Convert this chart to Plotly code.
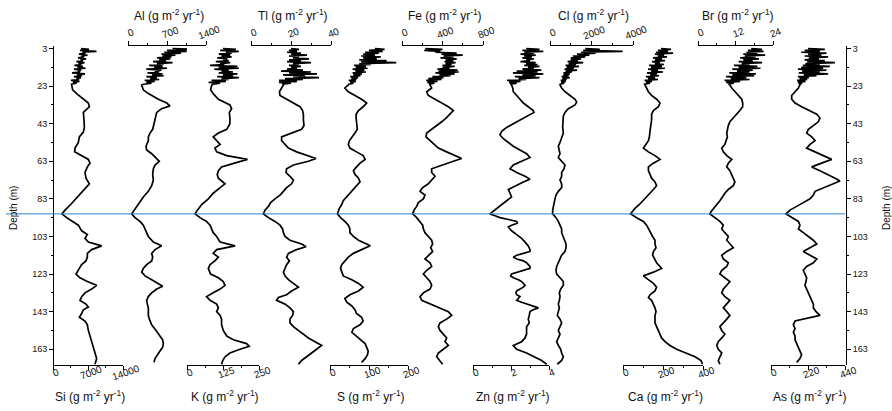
import plotly.graph_objects as go

# ---------------- DATA ----------------
depth_top = [3.0, 3.5, 4.0, 4.5, 5.0, 5.5, 6.0, 6.5, 7.0, 7.5, 8.0, 8.5, 9.0, 9.5, 10.0,
             10.5, 11.0, 11.5, 12.0, 12.5, 13.0, 13.5, 14.0, 14.5, 15.0, 15.5, 16.0, 16.5,
             17.0, 17.5, 18.0, 18.5, 19.0, 19.5, 20.0, 20.5, 21.0, 21.5, 22.0]

si_top = [5600, 7200, 5400, 8700, 5900, 6500, 5200, 6900, 5700, 6200,
          5000, 6600, 5500, 6000, 4700, 6300, 5100, 5700, 4300, 6000,
          4900, 6500, 4200, 5600, 5000, 5400, 3800, 6400, 4800, 5800,
          4200, 5600, 4700, 5200, 3600, 5300, 4000, 4700, 3700]
si_depth = [22.4, 25, 27, 30.4, 32, 34, 35.5, 37, 41, 45,
            47.5, 50, 53, 56, 58, 60, 62, 64, 66, 69,
            72, 75, 77, 80, 83, 86, 89, 91, 93, 95,
            97, 100, 102, 104, 106, 108, 110, 112, 114, 116,
            118, 120, 123, 125, 127, 129, 131, 133, 135, 137,
            139, 140.5, 142, 144, 146, 148, 150, 153, 156, 159,
            162, 165, 168, 171]
si_vals = [3730, 3930, 4730, 6400, 7070, 7270, 6600, 6070, 6200, 6270,
           6070, 5270, 5070, 4400, 4330, 5730, 7070, 7400, 6870, 6400,
           6600, 7270, 6600, 5730, 4730, 3530, 2400, 1800, 2730, 3930,
           5070, 5730, 6870, 6400, 7070, 9730, 7730, 6870, 6870, 6600,
           5730, 5270, 4600, 5400, 6870, 8730, 7730, 6400, 5730, 5400,
           6600, 7070, 6070, 5730, 5270, 6400, 6870, 7070, 7400, 7730,
           7930, 8400, 8730, 8400]

al_top = [800, 1250, 700, 1050, 650, 950, 600, 850, 620, 780,
          520, 760, 560, 680, 450, 800, 520, 640, 380, 620,
          470, 700, 330, 600, 480, 560, 350, 620, 430, 640,
          330, 520, 400, 560, 300, 480, 330, 420, 280]
al_depth = [22.4, 25, 27, 30, 32, 33.5, 35, 37, 40, 43,
            46, 48, 50, 52, 55, 57, 59, 61, 63, 65,
            67, 70, 73, 76, 79, 82, 85, 88, 91, 93,
            95, 97, 99, 101, 103, 106, 108, 110, 112, 114,
            116, 118, 120, 122, 124, 126, 128, 129.5, 131, 133,
            135, 137, 139, 141, 143, 145, 147, 150, 153, 156,
            158, 160, 162, 164, 166, 168, 170]
al_vals = [245, 275, 365, 545, 694, 754, 604, 515, 485, 467,
           443, 395, 365, 365, 323, 335, 425, 503, 562, 485,
           455, 443, 455, 425, 365, 275, 203, 126, 66, 126,
           215, 275, 305, 335, 365, 455, 604, 485, 425, 443,
           425, 335, 275, 245, 305, 425, 545, 622, 515, 425,
           365, 335, 347, 365, 365, 365, 383, 425, 503, 574,
           622, 634, 622, 574, 527, 485, 467]

k_top = [125, 170, 115, 180, 135, 155, 110, 150, 120, 155,
         105, 140, 125, 145, 100, 150, 115, 130, 80, 175,
         110, 180, 95, 145, 120, 160, 110, 175, 125, 160,
         105, 180, 120, 145, 85, 135, 75, 115, 90]
k_depth = [22.4, 25, 27, 30, 33, 35, 37, 40, 43, 46,
           48, 50, 52, 54, 56, 58, 60, 62, 64, 66,
           68, 70, 72, 75, 77, 80, 83, 86, 89, 91,
           93, 95, 97, 99, 101, 103, 106, 108, 110, 112,
           114, 116, 118, 120, 123, 125, 127, 129, 131, 133,
           135, 137, 139, 141, 143, 145, 147, 150, 153, 156,
           158, 160, 161.5, 163, 165, 167, 169, 171]
k_vals = [86, 82, 91, 109, 149, 155, 147, 149, 149, 138,
          109, 91, 103, 115, 97, 103, 138, 210, 165, 120,
          109, 105, 109, 132, 115, 91, 74, 51, 36, 28,
          45, 68, 80, 86, 91, 103, 115, 167, 103, 91,
          109, 97, 80, 74, 82, 109, 126, 132, 115, 91,
          68, 80, 103, 109, 103, 115, 120, 120, 126, 138,
          161, 207, 216, 184, 149, 132, 124, 120]

tl_top = [20, 24, 19, 23, 18, 25, 20, 28, 19, 24,
          21, 29, 19, 25, 18, 30, 21, 24, 19, 25,
          20, 23, 18, 26, 15, 30, 19, 33, 16, 27,
          21, 34, 17, 26, 14, 23, 14, 20, 16]
tl_depth = [22.4, 24, 26, 28, 30, 32, 34, 36, 38, 41,
            44, 46, 48, 50, 52, 54, 56, 58, 60, 61.5,
            63, 65, 67, 69, 71, 73, 75, 77, 79, 81,
            83, 85, 87, 89, 91, 93, 95, 97, 99, 101,
            103, 105, 107, 108.5, 110, 112, 114, 116, 118, 120,
            122, 124, 126, 128, 130, 132, 134, 135.5, 137, 139,
            141, 143, 145, 147, 149, 151, 153, 155, 157, 159,
            161, 163, 165, 167, 169, 171]
tl_vals = [16.2, 15.3, 14.2, 14.5, 17.8, 21.2, 24.5, 25.8, 26.2, 26.2,
           26.5, 25.3, 20.3, 15.3, 15.3, 17, 18.7, 22.8, 27.8, 32.5,
           28.7, 21.2, 17.8, 17.5, 19.5, 21.2, 20.3, 17.8, 16.2, 14.5,
           12, 9.8, 8.7, 7, 6.2, 8.7, 12, 14.5, 15.8, 16.2,
           17, 19.5, 25.3, 27.5, 22.8, 18.7, 17.8, 19.2, 17.8, 17,
           16.2, 17, 18.7, 21.2, 23.7, 20.3, 17.8, 13.7, 12.8, 17,
           19.5, 21.2, 20.8, 19.5, 19.5, 21.2, 23.7, 26.2, 28.7, 32,
           35.3, 32.8, 30.3, 27.8, 25.3, 23.7]

s_top = [115, 140, 100, 135, 90, 125, 85, 115, 80, 130,
         85, 120, 75, 145, 80, 170, 75, 105, 62, 92,
         66, 96, 58, 88, 65, 92, 58, 82, 60, 78,
         52, 72, 55, 68, 48, 66, 52, 60, 48]
s_depth = [22.4, 24, 26, 28, 30, 32, 34, 36, 38, 40,
           42, 44, 46, 48, 50, 52, 54, 56, 58, 60,
           62, 64, 66, 68, 70, 72, 74, 76, 78, 80,
           82, 84, 86, 88, 91, 93, 95, 97, 99, 101,
           103, 105, 107, 108, 110, 112, 114, 116, 118, 120,
           122, 124, 126, 128, 130, 132, 134, 136, 138, 140,
           142, 144, 146, 148, 150, 152, 154, 156, 158, 160,
           162, 164, 166, 168, 170]
s_vals = [47, 38, 47, 64, 81, 94, 85, 73, 67, 67,
          68, 68, 70, 64, 56, 50, 47, 51, 68, 85,
          90, 77, 68, 60, 64, 73, 77, 68, 60, 51,
          43, 34, 30, 24, 19, 27, 38, 47, 51, 51,
          60, 73, 94, 103, 81, 60, 47, 38, 30, 27,
          30, 34, 56, 73, 85, 73, 51, 38, 43, 56,
          64, 68, 81, 85, 77, 60, 56, 68, 81, 90,
          94, 98, 96, 90, 81]

fe_top = [230, 400, 220, 380, 330, 540, 390, 600, 410, 510,
          380, 540, 430, 510, 420, 530, 430, 490, 400, 520,
          400, 470, 350, 550, 360, 560, 330, 520, 370, 480,
          300, 410, 260, 390, 240, 350, 250, 320, 270]
fe_depth = [22.4, 24, 26, 28, 30, 32, 34, 36, 38, 40,
            42, 44, 46, 48, 50, 52, 54, 56, 58, 60,
            61.5, 63, 65, 67, 69, 71, 73, 75, 77, 79,
            81, 83, 85, 87, 89, 91, 93, 95, 97, 99,
            101, 103, 105, 107, 109, 111, 113, 115, 117, 119,
            121, 123, 125, 127, 129, 131, 133, 135, 137, 139,
            141, 143, 145, 147, 149, 151, 153, 155, 157, 159,
            161, 163, 165, 167, 169, 171]
fe_vals = [277, 293, 244, 260, 326, 392, 458, 507, 474, 435,
           392, 342, 293, 244, 237, 277, 310, 359, 441, 524,
           589, 507, 392, 293, 293, 326, 293, 260, 204, 178,
           227, 211, 161, 145, 119, 105, 145, 178, 204, 211,
           227, 260, 293, 303, 283, 303, 260, 227, 277, 293,
           244, 211, 244, 277, 293, 277, 211, 178, 195, 277,
           375, 458, 491, 441, 375, 359, 375, 408, 441, 425,
           458, 408, 359, 342, 375, 401]

zn_top = [2.8, 3.5, 2.6, 3.7, 2.7, 3.2, 2.5, 3.3, 2.7, 3.1,
          2.6, 3.2, 2.8, 3.0, 2.5, 3.3, 2.8, 3.4, 2.7, 3.5,
          2.9, 3.2, 2.6, 3.6, 2.3, 3.4, 2.1, 3.7, 2.6, 3.3,
          2.2, 3.5, 2.4, 2.8, 1.8, 2.5, 1.9, 2.3, 2.0]
zn_depth = [22.4, 24, 26, 28, 30, 32, 34, 36, 37, 39,
            41, 43, 45, 47, 49, 51, 53, 55, 57, 59,
            61, 63, 65, 67, 69, 71, 72.5, 74, 76, 78,
            80, 82, 84, 86, 88, 90, 91, 92, 93, 94,
            95, 96, 97, 98, 100, 102, 104, 106, 108, 110,
            111, 112, 113, 114, 115, 116, 117, 118, 119, 120,
            121, 122, 123, 124, 125, 126, 127, 128, 129, 130,
            131, 132, 133, 134, 135, 136, 137, 138, 139, 140,
            141, 142, 143, 145, 147, 149, 151, 153, 155, 157,
            159, 161, 163, 165, 167, 169, 171]
zn_vals = [2.03, 2.09, 2.12, 2.30, 2.47, 2.65, 2.91, 3.17, 3.21, 2.82,
           2.47, 2.12, 1.77, 1.51, 1.42, 1.60, 1.86, 2.12, 2.47, 2.82,
           3.00, 2.56, 2.12, 1.95, 2.30, 2.74, 3.00, 2.65, 2.21, 1.86,
           1.95, 2.03, 1.77, 1.51, 1.25, 0.98, 0.89, 1.16, 1.42, 1.86,
           2.30, 2.33, 2.03, 1.86, 2.03, 2.30, 2.56, 2.74, 2.91, 3.00,
           3.00, 2.65, 2.30, 2.12, 2.30, 2.65, 2.82, 2.91, 3.00, 3.00,
           2.65, 2.30, 2.03, 1.98, 2.12, 2.39, 2.56, 2.65, 2.74, 2.65,
           2.47, 2.30, 2.26, 2.30, 2.47, 2.39, 2.30, 2.56, 2.82, 3.17,
           3.44, 3.17, 3.00, 2.96, 2.91, 2.96, 2.82, 2.82, 2.82, 2.74,
           2.56, 2.12, 2.30, 2.82, 3.26, 3.61, 3.88]

cl_top = [1700, 2400, 1600, 3500, 1500, 2200, 1300, 1900, 1100, 1700,
          1000, 1500, 1000, 1350, 850, 1600, 900, 1250, 750, 1400,
          800, 1150, 700, 1300, 750, 1050, 650, 950, 650, 900,
          560, 950, 600, 800, 520, 760, 540, 680, 490]
cl_depth = [22.4, 24, 26, 28, 30, 31.5, 33, 35, 37, 39,
            42, 45, 48, 51, 53, 55, 57, 59, 61, 63,
            65, 67, 69, 71, 73, 75, 77, 79, 81, 83,
            85, 87, 89, 91, 93, 95, 97, 99, 101, 103,
            105, 107, 109, 111, 113, 115, 117, 119, 121, 123,
            125, 127, 129, 131, 133, 135, 137, 139, 141, 143,
            145, 147, 149, 151, 153, 155, 157, 159, 161, 163,
            165, 167, 169, 171]
cl_vals = [482, 562, 723, 964, 1205, 1285, 1205, 883, 723, 642,
           610, 610, 642, 562, 482, 401, 450, 482, 401, 562,
           723, 675, 562, 562, 482, 562, 562, 401, 289, 241,
           193, 161, 128, 128, 289, 401, 482, 562, 562, 642,
           723, 771, 771, 723, 562, 482, 401, 321, 289, 321,
           482, 642, 642, 514, 450, 482, 450, 401, 450, 401,
           353, 482, 562, 482, 401, 482, 401, 321, 401, 514,
           562, 642, 562, 353]

ca_top = [190, 240, 175, 225, 165, 250, 160, 205, 175, 220,
          150, 195, 160, 210, 145, 185, 160, 205, 130, 195,
          140, 210, 125, 175, 140, 200, 120, 170, 135, 180,
          115, 160, 125, 175, 108, 145, 115, 135, 108]
ca_depth = [22.4, 24, 26, 28, 30, 32, 34, 36, 38, 41,
            44, 47, 50, 52, 54, 56, 58, 60, 62, 64,
            66, 68, 70, 72, 74, 76, 78, 80, 82, 84,
            86, 88, 90, 91, 93, 95, 97, 99, 101, 103,
            105, 107, 109, 111, 113, 115, 117, 119, 120, 122,
            124, 126, 128, 130, 132, 134, 135.5, 137, 139, 141,
            143, 145, 147, 149, 151, 153, 155, 157, 159, 161,
            163, 165, 167, 169, 171]
ca_vals = [110, 115, 127, 143, 168, 185, 177, 152, 143, 143,
           138, 135, 132, 127, 115, 102, 127, 160, 185, 152,
           127, 127, 135, 143, 160, 168, 152, 135, 118, 102,
           82, 60, 43, 38, 68, 102, 118, 127, 135, 148,
           160, 160, 165, 152, 148, 160, 168, 185, 193, 152,
           102, 127, 152, 168, 160, 135, 127, 143, 152, 160,
           165, 160, 160, 160, 168, 177, 185, 193, 210, 235,
           268, 318, 360, 390, 398]

br_top = [17, 20.5, 16, 21, 15.5, 19, 14.5, 21.5, 15, 18.5,
          13.5, 19.5, 14.5, 17.5, 13, 20.5, 14, 16.5, 11.5, 19,
          13, 20, 11, 17.5, 12.5, 16.5, 10, 18.5, 11, 18,
          9, 15.5, 10.5, 16.5, 8.5, 13.5, 9, 11.5, 9.8]
br_depth = [22.4, 24, 26, 28, 30, 32, 34, 36, 38, 40,
            42, 44, 46, 48, 50, 52, 54, 56, 58, 60,
            62, 64, 66, 68, 70, 72, 74, 76, 78, 80,
            82, 84, 86, 88, 90, 91, 93, 95, 97, 99,
            101, 103, 105, 107, 109, 111, 113, 115, 117, 119,
            121, 123, 125, 127, 129, 131, 133, 135, 137, 139,
            141, 143, 145, 147, 149, 151, 153, 155, 157, 159,
            161, 163, 165, 167, 169, 171]
br_vals = [10.2, 10.8, 11.8, 12.9, 14.0, 14.3, 14.3, 13.4, 12.4, 11.3,
           10.2, 9.7, 9.4, 9.2, 9.4, 8.9, 8.6, 7.6, 8.1, 9.2,
           10.8, 9.7, 9.2, 10.2, 10.8, 11.3, 11.8, 11.3, 9.7, 8.6,
           7.9, 7.0, 6.0, 4.9, 4.1, 3.8, 5.4, 7.0, 8.1, 7.6,
           8.6, 9.7, 9.2, 10.2, 11.3, 9.2, 7.6, 8.1, 9.7, 9.2,
           7.6, 7.0, 8.6, 10.2, 9.2, 8.1, 7.6, 8.6, 10.2, 9.2,
           8.1, 9.2, 10.2, 9.2, 8.1, 7.0, 7.6, 8.6, 7.6, 6.5,
           6.0, 6.5, 7.6, 7.0, 6.5, 7.0]

as_top = [220, 320, 200, 290, 180, 330, 220, 300, 200, 340,
          225, 285, 200, 320, 215, 380, 205, 290, 190, 350,
          180, 310, 160, 330, 185, 290, 165, 340, 195, 270,
          160, 225, 170, 215, 155, 205, 160, 185, 170]
as_depth = [22.4, 24, 26, 28, 30, 32, 34, 36, 38, 40,
            42, 44, 46, 48, 50, 52, 54, 56, 58, 60,
            62, 64, 66, 68, 70, 72, 73.5, 75, 77, 79,
            81, 83, 85, 87, 89, 91, 93, 95, 97, 99,
            101, 103, 105, 107, 109, 111, 113, 115, 117, 119,
            121, 123, 125, 127, 129, 131, 133, 135, 137, 139,
            141, 143, 145, 146.5, 148, 150, 152, 154, 156, 158,
            160, 162, 164, 166, 168, 170]
as_vals = [172, 163, 143, 123, 123, 143, 182, 232, 272, 291,
           281, 252, 222, 212, 242, 262, 232, 212, 262, 311,
           361, 301, 242, 291, 341, 381, 410, 371, 311, 262,
           252, 232, 192, 153, 113, 89, 123, 163, 172, 163,
           192, 222, 252, 272, 232, 192, 232, 272, 252, 212,
           192, 202, 212, 208, 202, 212, 222, 232, 242, 252,
           252, 268, 291, 212, 143, 133, 143, 133, 143, 143,
           153, 163, 172, 182, 172, 153]

elements = ["Si", "Al", "K", "Tl", "S", "Fe", "Zn", "Cl", "Ca", "Br", "As"]
tick_labels = {
    "Si": [0, 7000, 14000], "Al": [0, 700, 1400], "K": [0, 125, 250],
    "Tl": [0, 20, 40], "S": [0, 100, 200], "Fe": [0, 400, 800],
    "Zn": [0, 2, 4], "Cl": [0, 2000, 4000], "Ca": [0, 200, 400],
    "Br": [0, 12, 24], "As": [0, 220, 440],
}
depth_ticks = [3, 23, 43, 63, 83, 103, 123, 143, 163]
depth_minor = [13, 33, 53, 73, 93, 113, 133, 153]
marker_depth = 91

series = {
    "Si": (si_top, si_depth, si_vals), "Al": (al_top, al_depth, al_vals),
    "K": (k_top, k_depth, k_vals), "Tl": (tl_top, tl_depth, tl_vals),
    "S": (s_top, s_depth, s_vals), "Fe": (fe_top, fe_depth, fe_vals),
    "Zn": (zn_top, zn_depth, zn_vals), "Cl": (cl_top, cl_depth, cl_vals),
    "Ca": (ca_top, ca_depth, ca_vals), "Br": (br_top, br_depth, br_vals),
    "As": (as_top, as_depth, as_vals),
}

# ---------------- LAYOUT CONFIG ----------------
W, H = 892, 411
PL, PR, PT, PB = 53, 846, 46, 365
PW, PH = PR - PL, PB - PT
axis_px = {"Si": (53, 123), "Al": (128, 206), "K": (187, 259), "Tl": (251, 331),
           "S": (330, 408), "Fe": (402, 483), "Zn": (473, 549), "Cl": (550, 633),
           "Ca": (623, 703), "Br": (698, 773), "As": (771, 845)}
on_top = {"Al", "Tl", "Fe", "Cl", "Br"}
FONT = "Liberation Sans, Arial, sans-serif"
INK = "#111111"


def px2paper_x(px):
    return (px - PL) / PW


def py2paper_y(py):
    return (PB - py) / PH


fig = go.Figure()
layout = dict(
    width=W, height=H, margin=dict(l=PL, r=W - PR, t=PT, b=H - PB, pad=0),
    paper_bgcolor="white", plot_bgcolor="white", showlegend=False,
    font=dict(family=FONT, color=INK, size=10),
)
annotations = []

for i, name in enumerate(elements, start=1):
    top, dep, val = series[name]
    xa = "x" if i == 1 else f"x{i}"
    key = "xaxis" if i == 1 else f"xaxis{i}"
    fig.add_trace(go.Scatter(
        x=list(top) + list(val), y=list(depth_top) + list(dep),
        xaxis=xa, yaxis="y", mode="lines",
        line=dict(color="black", width=1.7), hoverinfo="skip"))
    tv = tick_labels[name]
    mx = tv[-1]
    a, b = axis_px[name]
    top_side = name in on_top
    layout[key] = dict(
        domain=[px2paper_x(a), px2paper_x(b)], range=[0, mx], anchor="y",
        side="top" if top_side else "bottom",
        showline=True, linecolor="black", linewidth=1, mirror=False,
        ticks="outside", ticklen=4, tickwidth=1, tickcolor="black",
        tickmode="array", tickvals=tv, showticklabels=False,
        minor=dict(ticks="outside", ticklen=2, tickwidth=1, tickcolor="black",
                   tickmode="array", tickvals=[mx / 4, 3 * mx / 4]),
        showgrid=False, zeroline=False, fixedrange=True,
    )
    lab_y = py2paper_y(33) if top_side else py2paper_y(373)
    for v in tv:
        annotations.append(dict(
            x=v, xref=xa, y=lab_y, yref="paper", text=str(v), showarrow=False,
            textangle=-20, xshift=3, xanchor="center", yanchor="middle",
            font=dict(size=10, family=FONT, color=INK)))
    title_y = py2paper_y(15) if top_side else py2paper_y(396)
    annotations.append(dict(
        x=mx / 2, xref=xa, y=title_y, yref="paper",
        text=f"{name} (g m<sup>-2</sup> yr<sup>-1</sup>)", showarrow=False,
        xshift=2, xanchor="center", yanchor="middle",
        font=dict(size=12, family=FONT, color=INK)))

y_common = dict(
    range=[171.4, 1.67], showline=True, linecolor="black", linewidth=1,
    ticks="outside", ticklen=4, tickwidth=1, tickcolor="black",
    tickmode="array", tickvals=depth_ticks,
    minor=dict(ticks="outside", ticklen=2, tickwidth=1, tickcolor="black",
               tickmode="array", tickvals=depth_minor),
    tickfont=dict(size=9, family=FONT, color=INK),
    showgrid=False, zeroline=False, fixedrange=True,
)
layout["yaxis"] = dict(y_common, anchor="free", position=0, side="left")
layout["yaxis2"] = dict(y_common, anchor="free", position=1, side="right",
                        overlaying="y")
fig.add_trace(go.Scatter(x=[None], y=[None], xaxis="x", yaxis="y2",
                         mode="lines", hoverinfo="skip", showlegend=False))

for xp in (13, 886):
    annotations.append(dict(
        x=px2paper_x(xp), xref="paper", y=py2paper_y(208), yref="paper",
        text="Depth (m)", textangle=-90, showarrow=False,
        xanchor="center", yanchor="middle",
        font=dict(size=10, family=FONT, color=INK)))

layout["annotations"] = annotations
layout["shapes"] = [dict(
    type="line", xref="paper", yref="y", x0=px2paper_x(6), x1=px2paper_x(845),
    y0=marker_depth, y1=marker_depth, line=dict(color="#2b83c6", width=1),
    layer="above")]

fig.update_layout(**layout)
fig.write_html("out.html")
